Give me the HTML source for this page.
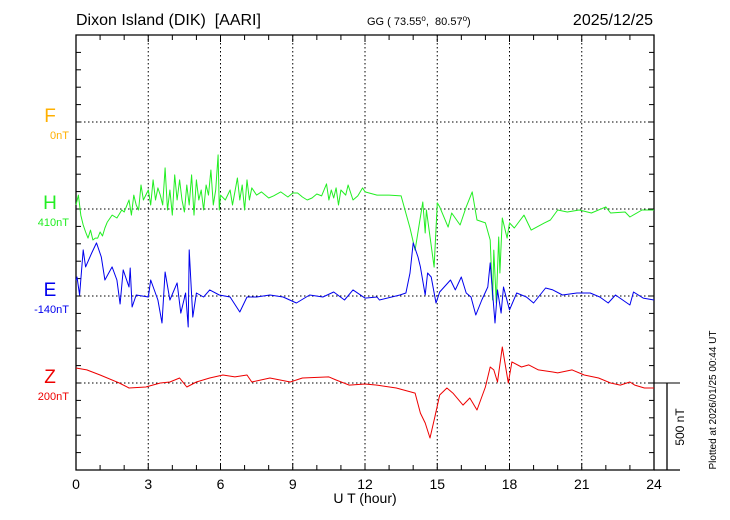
<!DOCTYPE html>
<html><head><meta charset="utf-8"><style>
html,body{margin:0;padding:0;background:#fff;}
svg{display:block;font-family:"Liberation Sans",sans-serif;}
</style></head><body>
<svg id="chart" width="730" height="520" viewBox="0 0 730 520" xmlns="http://www.w3.org/2000/svg">
<text x="76" y="25" font-size="16" style="white-space:pre">Dixon Island (DIK)  [AARI]</text>
<text x="367" y="25" font-size="11" style="white-space:pre">GG ( 73.55<tspan dy="-4" font-size="8">o</tspan><tspan dy="4">,  80.57</tspan><tspan dy="-4" font-size="8">o</tspan><tspan dy="4">)</tspan></text>
<text x="653" y="25" font-size="16" text-anchor="end">2025/12/25</text>
<g id="grid"></g>
<g id="axes"></g>
<g id="series"></g>
<text x="50" y="122" font-size="19" fill="#ffb000" text-anchor="middle">F</text>
<text x="69" y="139" font-size="11" fill="#ffb000" text-anchor="end">0nT</text>
<text x="50" y="209" font-size="19" fill="#22ee22" text-anchor="middle">H</text>
<text x="69" y="226" font-size="11" fill="#22ee22" text-anchor="end">410nT</text>
<text x="50" y="296" font-size="19" fill="#0000ee" text-anchor="middle">E</text>
<text x="69" y="313" font-size="11" fill="#0000ee" text-anchor="end">-140nT</text>
<text x="50" y="383" font-size="19" fill="#ee0000" text-anchor="middle">Z</text>
<text x="69" y="400" font-size="11" fill="#ee0000" text-anchor="end">200nT</text>
<text x="365" y="503" font-size="14" text-anchor="middle">U T (hour)</text>
<text transform="translate(684,427) rotate(-90)" font-size="12" text-anchor="middle">500 nT</text>
<text transform="translate(716,400) rotate(-90)" font-size="10" text-anchor="middle">Plotted at 2026/01/25 00:44 UT</text>
</svg>
<script>
const xTicks = [0,3,6,9,12,15,18,21,24];
const hT = [0,0.1,0.2,0.3,0.4,0.5,0.6,0.7,0.8,0.9,1.0,1.1,1.2,1.3,1.5,1.7,1.9,2.0,2.2,2.3,2.4,2.5,2.6,2.7,2.8,2.9,3.0,3.1,3.2,3.3,3.4,3.5,3.6,3.7,3.8,3.9,4.0,4.1,4.2,4.3,4.4,4.5,4.6,4.7,4.8,4.9,5.0,5.1,5.2,5.3,5.4,5.5,5.6,5.7,5.8,5.9,5.95,6.0,6.2,6.4,6.5,6.7,6.8,6.9,7.0,7.1,7.2,7.3,7.5,7.7,8.0,8.2,8.5,8.8,9.0,9.2,9.4,9.6,9.8,10.0,10.2,10.4,10.5,10.6,10.7,10.8,10.9,11.0,11.2,11.3,11.5,11.7,11.9,12.0,12.5,13.0,13.5,13.66,13.87,14.08,14.4,14.5,14.55,14.87,15.0,15.1,15.45,15.6,15.95,16.2,16.45,16.65,17.0,17.2,17.3,17.35,17.45,17.55,17.6,17.7,17.9,18.0,18.2,18.6,18.9,19.45,19.7,20.0,20.4,20.9,21.4,22.0,22.2,22.8,23.0,23.5,24];
const hV = [23,80,-35,-92,-132,-167,-121,-178,-167,-167,-132,-155,-109,-75,-35,-52,-6,-17,52,-35,80,23,-6,138,52,80,109,23,167,52,121,80,23,236,-6,109,-35,196,52,167,52,-17,138,23,196,-35,167,52,109,-6,138,80,224,23,109,311,-6,80,52,109,23,178,52,138,-6,167,52,121,80,98,63,75,98,69,92,92,69,52,63,86,75,144,52,109,63,121,23,109,80,138,52,75,121,98,80,80,75,-6,-109,-236,40,-138,-6,-334,35,12,-104,-23,-92,12,98,-63,-80,-178,-523,-236,-541,-161,-368,-52,-167,-80,-109,-35,-121,-80,-63,-6,-17,-6,-23,12,-23,-17,-46,-6,-6];
const eT = [0,0.04,0.15,0.3,0.4,0.65,0.85,1.05,1.2,1.5,1.7,1.83,1.96,2.2,2.25,2.33,2.5,3.0,3.1,3.4,3.57,3.7,3.9,4.2,4.35,4.55,4.66,4.7,4.85,5.0,5.3,5.55,5.95,6.4,6.8,7.1,7.5,8.05,8.6,9.15,9.7,10.25,10.7,11.15,11.5,12.0,12.5,12.6,13.45,13.7,13.87,14.0,14.2,14.3,14.5,14.6,14.75,14.95,15.1,15.55,15.75,16.0,16.2,16.4,16.6,16.85,17.1,17.2,17.4,17.5,17.65,17.75,18.0,18.3,18.7,19.0,19.5,19.8,20.2,20.8,21.35,21.75,22.1,22.4,23.0,23.15,23.55,24];
const eV = [90,109,6,265,167,247,305,224,92,167,92,-46,150,52,161,-63,6,-6,92,-23,-155,138,-23,75,-98,17,-178,265,-121,17,-6,35,6,-6,-92,-6,-6,6,-6,-40,6,-6,23,-23,35,-12,-6,-23,6,17,132,305,224,167,6,132,109,-40,23,92,35,109,17,-6,-109,-23,52,190,-155,35,-98,52,-80,17,-6,-40,46,35,6,17,17,-6,-40,6,-52,23,-12,-23];
const zT = [0,0.45,1.0,1.8,2.2,2.9,3.5,3.9,4.3,4.6,5.0,5.55,6.1,6.6,7.1,7.3,8.05,8.9,9.4,10.5,10.8,11.35,12.0,12.5,13.3,14.08,14.3,14.5,14.7,14.9,15.1,15.4,15.65,16.07,16.35,16.65,17.0,17.2,17.35,17.5,17.7,17.95,18.1,18.5,18.8,19.2,19.8,20.0,20.6,21.1,21.7,22.2,22.6,23.0,23.2,23.6,24];
const zV = [86,75,46,0,-29,-23,0,6,29,-23,6,29,46,35,46,6,29,6,29,35,17,-12,-6,-12,-29,-58,-173,-230,-316,-196,-69,-29,-58,-127,-86,-155,-23,92,75,6,207,0,121,92,104,75,63,58,75,46,29,0,-12,6,-12,-29,-29];

const L=76,R=654,T=35,B=470;
const base = {F:122,H:209,E:296,Z:383};
const pxPerNT = 87/500;
const xs = t => L + t*(R-L)/24;
const ys = (v,b) => b - v*pxPerNT;
const NS='http://www.w3.org/2000/svg';
function mk(tag, attrs, parent){const e=document.createElementNS(NS,tag);for(const k in attrs)e.setAttribute(k,attrs[k]);parent.appendChild(e);return e;}
const grid=document.getElementById('grid'), axes=document.getElementById('axes'), ser=document.getElementById('series');
xTicks.forEach(t=>{
  if(t>0&&t<24){const g=mk('line',{x1:xs(t),x2:xs(t),y1:T,y2:B,stroke:'#000','stroke-width':1,'stroke-dasharray':'1.5,2.5'},grid);
  
  }
  const lb=mk('text',{x:xs(t),y:489,'font-size':14,'text-anchor':'middle'},axes);lb.textContent=t;
  
  
});
Object.values(base).forEach(b=>{
  const g=mk('line',{x1:L,x2:R,y1:b,y2:b,stroke:'#000','stroke-width':1,'stroke-dasharray':'1.5,2.5'},grid);
  
  
});
const fr=mk('path',{d:`M${L},${T}H${R}V${B}H${L}Z`,fill:'none',stroke:'#000','stroke-width':1.3},axes);


mk('line',{x1:R,x2:680,y1:B,y2:B,stroke:'#000','stroke-width':1.3},axes);
mk('line',{x1:R,x2:680,y1:383,y2:383,stroke:'#000','stroke-width':1},axes);
const sb=mk('line',{x1:667,x2:667,y1:383,y2:B,stroke:'#000','stroke-width':1.3},axes);


for(let h=1;h<24;h++){
  const len = h%3===0?7:5;
  mk('line',{x1:xs(h),x2:xs(h),y1:T,y2:T+len,stroke:'#000'},axes);
  mk('line',{x1:xs(h),x2:xs(h),y1:B,y2:B-len,stroke:'#000'},axes);
}
for(let i=1;i<25;i++){
  const y=T+i*17.4;
  mk('line',{x1:L,x2:L+5,y1:y,y2:y,stroke:'#000'},axes);
  mk('line',{x1:R,x2:R-5,y1:y,y2:y,stroke:'#000'},axes);
}
function draw(tArr,vArr,b,color,name){
  let d='';
  for(let i=0;i<tArr.length;i++){d+=(i?'L':'M')+xs(tArr[i]).toFixed(1)+','+ys(vArr[i],b).toFixed(1);}
  const p=mk('path',{d:d,fill:'none',stroke:color,'stroke-width':1,'stroke-linejoin':'round'},ser);
  
  
}
draw(hT,hV,base.H,'#22ee22','h-series');
draw(eT,eV,base.E,'#0000ee','e-series');
draw(zT,zV,base.Z,'#ee0000','z-series');
</script>
</body></html>
